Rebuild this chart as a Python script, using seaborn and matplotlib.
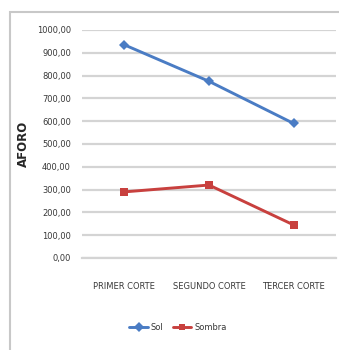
import matplotlib
matplotlib.use("Agg")
import matplotlib.pyplot as plt
from matplotlib.patches import Rectangle
from matplotlib.lines import Line2D
import seaborn as sns
import pandas as pd

categories = ["PRIMER CORTE", "SEGUNDO CORTE", "TERCER CORTE"]
sol = [935, 775, 590]
sombra = [290, 320, 145]
y_ticks = [0, 100, 200, 300, 400, 500, 600, 700, 800, 900, 1000]

df = pd.DataFrame({
    "corte": list(range(3)) * 2,
    "aforo": sol + sombra,
    "serie": ["Sol"] * 3 + ["Sombra"] * 3,
})

sns.set_theme(style="white")
plt.rcParams["font.family"] = ["DejaVu Sans"]
plt.rcParams["font.stretch"] = "condensed"

W, H = 339, 350
fig = plt.figure(figsize=(W / 100, H / 100), dpi=100)
ax = fig.add_axes([82 / W, 1 - 258 / H, (336 - 82) / W, (258 - 30) / H])

# outer chart frame
fig.patches.append(Rectangle((10 / W, -0.02), 1.2, 1 - 12 / H + 0.02, transform=fig.transFigure,
                             fill=False, edgecolor="#c8c8c8", linewidth=1.5))

palette = {"Sol": "#4A7CC4", "Sombra": "#C8403E"}
markers = {"Sol": "D", "Sombra": "s"}
sns.lineplot(data=df, x="corte", y="aforo", hue="serie", style="serie",
             palette=palette, markers=markers, dashes=False, linewidth=2.1,
             markersize=5.5, markeredgewidth=0, ax=ax, legend=False, zorder=3)

text_color = "#383838"
ax.set_xlim(-0.5, 2.5)
ax.set_ylim(0, 1000)
ax.set_yticks(y_ticks)
ax.set_yticklabels([f"{v:.2f}".replace(".", ",") for v in y_ticks], fontsize=6.7,
                   color=text_color, fontstretch="condensed")
ax.set_xticks(range(3))
ax.set_xticklabels(categories, fontsize=6.7, color=text_color, fontstretch="condensed")
ax.tick_params(axis="x", length=0, pad=17)
ax.tick_params(axis="y", length=0, pad=8)
ax.grid(axis="y", color="#d4d4d4", linewidth=1.6)
ax.set_axisbelow(True)
for s in ["top", "right", "left"]:
    ax.spines[s].set_visible(False)
ax.spines["bottom"].set_color("#d4d4d4")
ax.spines["bottom"].set_linewidth(1.6)
ax.set_xlabel("")
ax.set_ylabel("AFORO", fontsize=8.5, fontweight="bold", color="#262626",
              fontstretch="normal")
ax.yaxis.set_label_coords(-0.205, 0.5)

# legend below the plot
handles = [Line2D([], [], color=palette[k], marker=markers[k], markersize=5,
                  markeredgewidth=0, linewidth=2.1) for k in ["Sol", "Sombra"]]
fig.legend(handles, ["Sol", "Sombra"], loc="center", bbox_to_anchor=(178 / W, 1 - 328 / H),
           ncol=2, frameon=False, handlelength=2, handletextpad=0.3,
           columnspacing=1.0, labelcolor=text_color, prop={"stretch": "condensed", "size": 6.7})

fig.savefig("out.png", dpi=100, facecolor="white")
